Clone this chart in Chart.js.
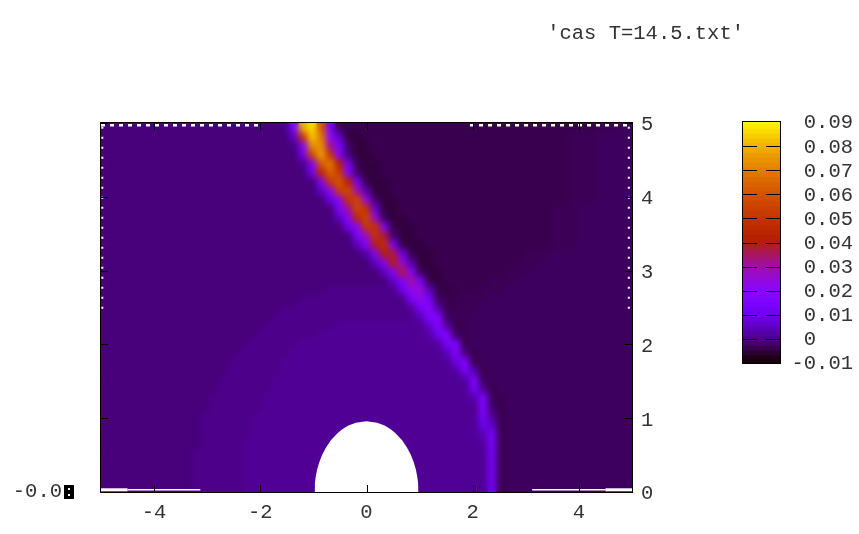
<!DOCTYPE html>
<html><head><meta charset="utf-8">
<style>html,body{margin:0;padding:0;background:#fff;width:859px;height:534px;overflow:hidden}
canvas{position:absolute;top:0}</style>
<script src="https://cdn.jsdelivr.net/npm/chart.js@4"></script></head><body>
<canvas id="main" width="744" height="534" style="left:0"></canvas>
<canvas id="bar" width="159" height="534" style="left:700px"></canvas>
<script>
const titleText="'cas T=14.5.txt'";
const xTickValues=[-4,-2,0,2,4];
const yTickValues=[0,1,2,3,4,5];
const cbTickValues=[-10,0,10,20,30,40,50,60,70,80,90];
const cbTickLabels=['-0.01','0   ','0.01','0.02','0.03','0.04','0.05','0.06','0.07','0.08','0.09'];
const cbLevels=[-10,-8,-6,-4,-2,0,2,4,6,8,10,12,14,16,18,20,22,24,26,28,30,32,34,36,38,40,42,44,46,48,50,52,54,56,58,60,62,64,66,68,70,72,74,76,78,80,82,84,86,88];
// heat values in thousandths, top row first, 59 columns each
const row00=[-2,-2,-2,-2,-2,-2,-2,-2,-2,-2, -2,-2,-2,-2,-2,-2,-2,-2,-2,-2, -1,15,78,85,60,14,-4,-5,-5,-5, -5,-5,-5,-5,-5,-5,-5,-5,-5,-5, -5,-5,-5,-5,-5,-5,-5,-5,-5,-5, -5,-5,-5,-5,-5,-4.5,-4.5,-4.5,-4];
const row01=[-2,-2,-2,-2,-2,-2,-2,-2,-2,-2, -2,-2,-2,-2,-2,-2,-2,-2,-2,-2, -2,5,50,82,68,20,5,-6,-6,-5, -5,-5,-5,-5,-5,-5,-5,-5,-5,-5, -5,-5,-5,-5,-5,-5,-5,-5,-5,-5, -5,-5,-4.5,-4.5,-4.5,-4,-4,-4,-4];
const row02=[-2,-2,-2,-2,-2,-2,-2,-2,-2,-2, -2,-2,-2,-2,-2,-2,-2,-2,-2,-2, -2,-1,18,72,72,30,14,-3,-6,-6, -5,-5,-5,-5,-5,-5,-5,-5,-5,-5, -5,-5,-5,-5,-5,-5,-5,-5,-5,-5, -5,-5,-4.5,-4.5,-4.5,-4,-4,-4,-4];
const row03=[-2,-2,-2,-2,-2,-2,-2,-2,-2,-2, -2,-2,-2,-2,-2,-2,-2,-2,-2,-2, -2,-2,10,55,75,50,16,-2,-6,-6, -5,-5,-5,-5,-5,-5,-5,-5,-5,-5, -5,-5,-5,-5,-5,-5,-5,-5,-5,-5, -5,-5,-4.5,-4.5,-4.5,-4,-4,-4,-4];
const row04=[-2,-2,-2,-2,-2,-2,-2,-2,-2,-2, -2,-2,-2,-2,-2,-2,-2,-2,-2,-2, -2,-2,-1,16,60,68,40,12,-5,-6, -6,-5,-5,-5,-5,-5,-5,-5,-5,-5, -5,-5,-5,-5,-5,-5,-5,-5,-5,-5, -5,-5,-4.5,-4.5,-4.5,-4,-4,-4,-4];
const row05=[-2,-2,-2,-2,-2,-2,-2,-2,-2,-2, -2,-2,-2,-2,-2,-2,-2,-2,-2,-2, -2,-2,-2,10,44,62,52,15,-3,-6, -6,-5,-5,-5,-5,-5,-5,-5,-5,-5, -5,-5,-5,-5,-5,-5,-5,-5,-5,-5, -5,-5,-4.5,-4.5,-4.5,-4,-4,-4,-4];
const row06=[-2,-2,-2,-2,-2,-2,-2,-2,-2,-2, -2,-2,-2,-2,-2,-2,-2,-2,-2,-2, -2,-2,-2,-2,15,50,60,40,13,-5, -6,-6,-5,-5,-5,-5,-5,-5,-5,-5, -5,-5,-5,-5,-5,-5,-5,-5,-5,-5, -5,-5,-4.5,-4.5,-4.5,-4,-4,-4,-4];
const row07=[-2,-2,-2,-2,-2,-2,-2,-2,-2,-2, -2,-2,-2,-2,-2,-2,-2,-2,-2,-2, -2,-2,-2,-2,4,18,52,56,28,2, -6,-6,-5,-5,-5,-5,-5,-5,-5,-5, -5,-5,-5,-5,-5,-5,-5,-5,-5,-5, -5,-5,-4.5,-4.5,-4.5,-4,-4,-4,-4];
const row08=[-2,-2,-2,-2,-2,-2,-2,-2,-2,-2, -2,-2,-2,-2,-2,-2,-2,-2,-2,-2, -2,-2,-2,-2,-2,7,18,48,55,22, -3,-6,-6,-5,-5,-5,-5,-5,-5,-5, -5,-5,-5,-5,-5,-5,-5,-5,-5,-5, -5,-5,-4.5,-4.5,-4.5,-4,-4,-4,-4];
const row09=[-2,-2,-2,-2,-2,-2,-2,-2,-2,-2, -2,-2,-2,-2,-2,-2,-2,-2,-2,-2, -2,-2,-2,-2,-2,-2,14,30,55,48, 7,-6,-6,-5,-5,-5,-5,-5,-5,-5, -5,-5,-5,-5,-5,-5,-5,-5,-5,-5, -4.5,-4.5,-4.5,-4,-4,-4,-4,-4,-4];
const row10=[-2,-2,-2,-2,-2,-2,-2,-2,-2,-2, -2,-2,-2,-2,-2,-2,-2,-2,-2,-2, -2,-2,-2,-2,-2,-2,4,17,44,54, 24,-4,-6,-6,-5,-5,-5,-5,-5,-5, -5,-5,-5,-5,-5,-5,-5,-5,-5,-5, -4.5,-4.5,-4.5,-4,-4,-4,-4,-4,-4];
const row11=[-2,-2,-2,-2,-2,-2,-2,-2,-2,-2, -2,-2,-2,-2,-2,-2,-2,-2,-2,-2, -2,-2,-2,-2,-2,-2,-2,9,18,50, 48,15,-5,-6,-6,-5,-5,-5,-5,-5, -5,-5,-5,-5,-5,-5,-5,-5,-5,-5, -4.5,-4.5,-4.5,-4,-4,-4,-4,-4,-4];
const row12=[-2,-2,-2,-2,-2,-2,-2,-2,-2,-2, -2,-2,-2,-2,-2,-2,-2,-2,-2,-2, -2,-2,-2,-2,-2,-2,-2,-2,14,26, 48,36,-2,-6,-6,-5,-5,-5,-5,-5, -5,-5,-5,-5,-5,-5,-5,-5,-5,-5, -4.5,-4.5,-4.5,-4,-4,-4,-4,-4,-4];
const row13=[-2,-2,-2,-2,-2,-2,-2,-2,-2,-2, -2,-2,-2,-2,-2,-2,-2,-2,-2,-2, -2,-2,-2,-2,-2,-2,-2,-2,3,15, 38,46,14,-5,-6,-6,-5,-5,-5,-5, -5,-5,-5,-5,-5,-5,-5,-5,-5,-5, -4.5,-4.5,-4.5,-4,-4,-4,-4,-4,-4];
const row14=[-2,-2,-2,-2,-2,-2,-2,-2,-2,-2, -2,-2,-2,-2,-2,-2,-2,-2,-2,-2, -2,-2,-2,-2,-2,-2,-2,-2,-2,1, 15,40,36,10,-5,-6,-6,-5,-5,-5, -5,-5,-5,-5,-5,-5,-5,-4.5,-4.5,-4.5, -4,-4,-4,-4,-4,-4,-4,-4,-4];
const row15=[-2,-2,-2,-2,-2,-2,-2,-2,-2,-2, -2,-2,-2,-2,-2,-2,-2,-2,-2,-2, -2,-2,-2,-2,-2,-2,-2,-2,-2,-2, 4,16,40,24,2,-6,-6,-5,-5,-5, -5,-5,-5,-5,-5,-5,-4.5,-4.5,-4.5,-4, -4,-4,-4,-4,-4,-4,-4,-4,-4];
const row16=[-2,-2,-2,-2,-2,-2,-2,-2,-2,-2, -2,-2,-2,-2,-2,-2,-2,-2,-2,-2, -2,-2,-2,-2,-2,-2,-2,-2,-2,-2, -2,4,15,37,18,-4,-6,-6,-5,-5, -5,-5,-5,-5,-5,-4.5,-4.5,-4.5,-4,-4, -4,-4,-4,-4,-4,-4,-4,-4,-4];
const row17=[-2,-2,-2,-2,-2,-2,-2,-2,-2,-2, -2,-2,-2,-2,-2,-2,-2,-2,-2,-2, -2,-2,-2,-2,-2,-2,-2,-2,-2,-2, -2,-2,5,16,30,14,-5,-6,-5,-5, -5,-5,-5,-4.5,-4.5,-4.5,-4,-4,-4,-4, -4,-4,-4,-4,-4,-4,-4,-4,-4];
const row18=[-2,-2,-2,-2,-2,-2,-2,-2,-2,-2, -2,-2,-2,-2,-2,-2,-2,-2,-2,-2, -2,-2,-2,-2,-2,-1,-1,-1,-1,-1, -1,-1,-1,10,20,25,4,-5,-6,-5, -5,-5,-4.5,-4.5,-4.5,-4,-4,-4,-4,-4, -4,-4,-4,-4,-4,-4,-4,-4,-4];
const row19=[-2,-2,-2,-2,-2,-2,-2,-2,-2,-2, -2,-2,-2,-2,-2,-2,-2,-2,-2,-2, -2,-2,-1,-1,-1,-1,-1,-1,-1,-1, -1,-1,-1,-1,13,22,12,-4,-5,-5, -4.5,-4.5,-4.5,-4,-4,-4,-4,-4,-4,-4, -4,-4,-4,-4,-4,-4,-4,-4,-4];
const row20=[-2,-2,-2,-2,-2,-2,-2,-2,-2,-2, -2,-2,-2,-2,-2,-2,-2,-2,-2,-2, -1,-1,-1,-1,-1,-1,-1,-1,-1,-1, -1,-1,-1,-1,1,13,19,2,-5,-4.5, -4.5,-4.5,-4,-4,-4,-4,-4,-4,-4,-4, -4,-4,-4,-4,-4,-4,-4,-4,-4];
const row21=[-2,-2,-2,-2,-2,-2,-2,-2,-2,-2, -2,-2,-2,-2,-2,-2,-2,-2,-2,-1, -1,-1,-1,-1,-1,-1,-1,-1,-1,-1, -1,-1,-1,-1,-1,3,15,16,-4,-4.5, -4.5,-4,-4,-4,-4,-4,-4,-4,-4,-4, -4,-4,-4,-4,-4,-4,-4,-4,-4];
const row22=[-2,-2,-2,-2,-2,-2,-2,-2,-2,-2, -2,-2,-2,-2,-2,-2,-2,-2,-1,-1, -1,-1,-1,-1,-1,-1,0,0,0,0, 0,0,0,0,0,0,5,16,1,-5, -4.5,-4,-4,-4,-4,-4,-4,-4,-4,-4, -4,-4,-4,-4,-4,-4,-4,-4,-4];
const row23=[-2,-2,-2,-2,-2,-2,-2,-2,-2,-2, -2,-2,-2,-2,-2,-2,-2,-1,-1,-1, -1,-1,-1,-1,0,0,0,0,0,0, 0,0,0,0,0,0,1,10,16,-4, -4.5,-4,-4,-4,-4,-4,-4,-4,-4,-4, -4,-4,-4,-4,-4,-4,-4,-4,-4];
const row24=[-2,-2,-2,-2,-2,-2,-2,-2,-2,-2, -2,-2,-2,-2,-2,-2,-1,-1,-1,-1, -1,-1,0,0,0,0,0,0,0,0, 0,0,0,0,0,0,0,1,12,14, -5,-4,-4,-4,-4,-4,-4,-4,-4,-4, -4,-4,-4,-4,-4,-4,-4,-4,-4];
const row25=[-2,-2,-2,-2,-2,-2,-2,-2,-2,-2, -2,-2,-2,-2,-2,-1,-1,-1,-1,-1, -1,0,0,0,0,0,0,0,0,0, 0,0,0,0,0,0,0,0,3,16, -2,-5,-4,-4,-4,-4,-4,-4,-4,-4, -4,-4,-4,-4,-4,-4,-4,-4,-4];
const row26=[-2,-2,-2,-2,-2,-2,-2,-2,-2,-2, -2,-2,-2,-2,-1,-1,-1,-1,-1,-1, 0,0,0,0,0,0,0,0,0,0, 0,0,0,0,0,0,0,0,0,8, 15,-5,-4,-4,-4,-4,-4,-4,-4,-4, -4,-4,-4,-4,-4,-4,-4,-4,-4];
const row27=[-2,-2,-2,-2,-2,-2,-2,-2,-2,-2, -2,-2,-2,-2,-1,-1,-1,-1,-1,-1, 0,0,0,0,0,0,0,0,0,0, 0,0,0,0,0,0,0,0,0,1, 13,2,-5,-4,-4,-4,-4,-4,-4,-4, -4,-4,-4,-4,-4,-4,-4,-4,-4];
const row28=[-2,-2,-2,-2,-2,-2,-2,-2,-2,-2, -2,-2,-2,-1,-1,-1,-1,-1,-1,0, 0,0,0,0,0,0,0,0,0,0, 0,0,0,0,0,0,0,0,0,0, 1,15,-4,-4,-4,-4,-4,-4,-4,-4, -4,-4,-4,-4,-4,-4,-4,-4,-4];
const row29=[-2,-2,-2,-2,-2,-2,-2,-2,-2,-2, -2,-2,-2,-1,-1,-1,-1,-1,-1,0, 0,0,0,0,0,0,0,0,0,0, 0,0,0,0,0,0,0,0,0,0, 0,12,0,-5,-4,-4,-4,-4,-4,-4, -4,-4,-4,-4,-4,-4,-4,-4,-4];
const row30=[-2,-2,-2,-2,-2,-2,-2,-2,-2,-2, -2,-2,-1,-1,-1,-1,-1,-1,0,0, 0,0,0,0,0,0,0,0,0,0, 0,0,0,0,0,0,0,0,0,0, 0,2,14,-4,-5,-4,-4,-4,-4,-4, -4,-4,-4,-4,-4,-4,-4,-4,-4];
const row31=[-2,-2,-2,-2,-2,-2,-2,-2,-2,-2, -2,-2,-1,-1,-1,-1,-1,-1,0,0, 0,0,0,0,0,0,0,0,0,0, 0,0,0,0,0,0,0,0,0,0, 0,0,15,-3,-5,-4,-4,-4,-4,-4, -4,-4,-4,-4,-4,-4,-4,-4,-4];
const row32=[-2,-2,-2,-2,-2,-2,-2,-2,-2,-2, -2,-1,-1,-1,-1,-1,-1,0,0,0, 0,0,0,0,0,0,0,0,0,0, 0,0,0,0,0,0,0,0,0,0, 0,0,12,0,-5,-4,-4,-4,-4,-4, -4,-4,-4,-4,-4,-4,-4,-4,-4];
const row33=[-2,-2,-2,-2,-2,-2,-2,-2,-2,-2, -2,-1,-1,-1,-1,-1,-1,0,0,0, 0,0,0,0,0,0,0,0,0,0, 0,0,0,0,0,0,0,0,0,0, 0,0,9,4,-5,-4,-4,-4,-4,-4, -4,-4,-4,-4,-4,-4,-4,-4,-4];
const row34=[-2,-2,-2,-2,-2,-2,-2,-2,-2,-2, -2,-1,-1,-1,-1,-1,-1,0,0,0, 0,0,0,0,0,0,0,null,null,null, null,null,0,0,0,0,0,0,0,0, 0,0,3,12,-5,-4,-4,-4,-4,-4, -4,-4,-4,-4,-4,-4,-4,-4,-4];
const row35=[-2,-2,-2,-2,-2,-2,-2,-2,-2,-2, -2,-1,-1,-1,-1,-1,0,0,0,0, 0,0,0,0,0,0,null,null,null,null, null,null,null,0,0,0,0,0,0,0, 0,0,1,13,-5,-4,-4,-4,-4,-4, -4,-4,-4,-4,-4,-4,-4,-4,-4];
const row36=[-2,-2,-2,-2,-2,-2,-2,-2,-2,-2, -1,-1,-1,-1,-1,-1,0,0,0,0, 0,0,0,0,0,null,null,null,null,null, null,null,null,0,0,0,0,0,0,0, 0,0,0,12,-5,-4,-4,-4,-4,-4, -4,-4,-4,-4,-4,-4,-4,-4,-4];
const row37=[-2,-2,-2,-2,-2,-2,-2,-2,-2,-2, -1,-1,-1,-1,-1,-1,0,0,0,0, 0,0,0,0,0,null,null,null,null,null, null,null,null,null,0,0,0,0,0,0, 0,0,0,11,-5,-4,-4,-4,-4,-4, -4,-4,-4,-4,-4,-4,-4,-4,-4];
const row38=[-2,-2,-2,-2,-2,-2,-2,-2,-2,-2, -1,-1,-1,-1,-1,-1,0,0,0,0, 0,0,0,0,0,null,null,null,null,null, null,null,null,null,0,0,0,0,0,0, 0,0,0,11,-5,-4,-4,-4,-4,-4, -4,-4,-4,-4,-4,-4,-4,-4,-4];
const row39=[-2,-2,-2,-2,-2,-2,-2,-2,-2,-2, -1,-1,-1,-1,-1,-1,0,0,0,0, 0,0,0,0,null,null,null,null,null,null, null,null,null,null,null,0,0,0,0,0, 0,0,0,10,-5,-4,-4,-4,-4,-4, -4,-4,-4,-4,-4,-4,-4,-4,-4];
const row40=[-2,-2,-2,-2,-2,-2,-2,-2,-2,-2, -1,-1,-1,-1,-1,-1,0,0,0,0, 0,0,0,0,null,null,null,null,null,null, null,null,null,null,null,0,0,0,0,0, 0,0,0,10,-5,-4,-4,-4,-4,-4, -4,-4,-4,-4,-4,-4,-4,-4,-4];
const heatRows=[row00,row01,row02,row03,row04,row05,row06,row07,row08,row09,row10,row11,row12,row13,row14,row15,row16,row17,row18,row19,row20,row21,row22,row23,row24,row25,row26,row27,row28,row29,row30,row31,row32,row33,row34,row35,row36,row37,row38,row39,row40];
// edge of the empty region round the origin
const holeEdge=[[-0.98,0],[-0.975,0.1],[-0.958,0.2],[-0.931,0.3],[-0.891,0.4],[-0.837,0.5],[-0.765,0.6],[-0.671,0.7],[-0.542,0.8],[-0.456,0.85],[-0.341,0.9],[-0.2,0.94],[0,0.96],[0.2,0.94],[0.341,0.9],[0.456,0.85],[0.542,0.8],[0.671,0.7],[0.765,0.6],[0.837,0.5],[0.891,0.4],[0.931,0.3],[0.958,0.2],[0.975,0.1],[0.98,0]];
// unfilled slivers along the frame
const gapBottomL=[[-5,0.03],[-4.5,0.03]], gapBottomL2=[[-4.5,0.03],[-3.13,0.03]];
const gapBottomR=[[4.5,0.03],[5,0.03]], gapBottomR2=[[3.12,0.03],[4.5,0.03]];
const gapTopL=[[-5,4.97],[-2,4.97]], gapTopR=[[1.95,4.97],[5,4.97]];
const gapLeft=[[-4.975,4.95],[-4.975,2.4]], gapRight=[[4.94,4.95],[4.94,2.4]];

const XMIN=-5,XMAX=5,YMIN=0,YMAX=5,VMIN=-10,VMAX=90;
function pal(v){
  const t=Math.max(0,Math.min(1,(v-VMIN)/(VMAX-VMIN)));
  const r=Math.sqrt(t),g=t*t*t,b=Math.max(0,Math.sin(2*Math.PI*t));
  return `rgb(${Math.round(r*255)},${Math.round(g*255)},${Math.round(b*255)})`;
}
const FONT={family:"'Liberation Mono','DejaVu Sans Mono',monospace",size:20.5};
const TXT='#333';
const nCols=row00.length,nRows=heatRows.length;
const dx=(XMAX-XMIN)/nCols,dy=(YMAX-YMIN)/nRows;
const cellSets=heatRows.map((row,r)=>{
  const data=[],colors=[];
  row.forEach((v,c)=>{
    if(v===null)return;
    data.push({x:XMIN+(c+.5)*dx,y:[YMAX-(r+1)*dy,YMAX-r*dy]});
    colors.push(pal(v));
  });
  return {type:'bar',data,backgroundColor:colors,borderWidth:0,barPercentage:1,categoryPercentage:1,grouped:false,order:5};
});
const pts=a=>a.map(p=>({x:p[0],y:p[1]}));
const sliver=(a,w,dash)=>({type:'line',data:pts(a),borderColor:'#fff',borderWidth:w,borderDash:dash||[],pointRadius:0,fill:false,order:1});
const noPad=(s,w)=>{s.width=w;s.paddingTop=0;s.paddingBottom=0};
const frame=(ticksX,ticksY,len)=>({id:'frame',afterDatasetsDraw(ch){
  const {ctx,chartArea:a,scales}=ch;
  ctx.save();ctx.strokeStyle='#000';ctx.lineWidth=1;
  ctx.strokeRect(a.left-.5,a.top-.5,a.right-a.left+1,a.bottom-a.top+1);
  ctx.beginPath();
  ticksX.forEach(v=>{const p=Math.round(scales.x.getPixelForValue(v))+.5;ctx.moveTo(p,a.bottom);ctx.lineTo(p,a.bottom-len);ctx.moveTo(p,a.top);ctx.lineTo(p,a.top+len);});
  ticksY.forEach(v=>{const p=Math.round(scales.y.getPixelForValue(v))+.5;ctx.moveTo(a.left,p);ctx.lineTo(a.left+len,p);ctx.moveTo(a.right,p);ctx.lineTo(a.right-len,p);});
  ctx.stroke();ctx.restore();
}});
// soften the cell edges once the last row of cells is down, before the overlays
const soften={id:'soften',afterDatasetDraw(ch,args){
  if(args.index!==0)return;
  const {ctx,chartArea:a,canvas}=ch;
  const w=a.right-a.left,h=a.bottom-a.top;
  ctx.save();ctx.beginPath();ctx.rect(a.left,a.top,w,h);ctx.clip();
  ctx.filter='blur(3px)';
  ctx.drawImage(canvas,a.left,a.top,w,h,a.left,a.top,w,h);
  ctx.restore();
}};
const blot={id:'blot',afterDraw(ch){
  const c=ch.ctx;c.save();c.fillStyle='#000';c.fillRect(64,485,10,14);
  c.fillStyle='#fff';c.fillRect(68,488,2,2);c.fillRect(68,494,2,2);c.restore();
}};
new Chart(document.getElementById('main'),{
  type:'bar',
  data:{datasets:[
    ...cellSets,
    {type:'line',data:pts(holeEdge),borderWidth:0,borderColor:'#fff',backgroundColor:'#fff',pointRadius:0,fill:'origin',tension:0,order:0},
    sliver(gapBottomL,3),sliver(gapBottomL2,1.5),sliver(gapBottomR,3),sliver(gapBottomR2,1.5),
    sliver(gapTopL,2.5,[4,5]),sliver(gapTopR,2.5,[4,5]),sliver(gapLeft,2,[2,8]),sliver(gapRight,2,[2,8])
  ]},
  options:{responsive:false,maintainAspectRatio:false,animation:false,devicePixelRatio:1,
    layout:{padding:0},
    plugins:{legend:{display:false},tooltip:{enabled:false},
      title:{display:true,text:titleText,align:'end',color:TXT,font:{...FONT,weight:'normal',lineHeight:1.2},padding:{top:21,bottom:77.4}}},
    scales:{
      x:{type:'linear',min:XMIN,max:XMAX,offset:false,grid:{display:false,drawTicks:false},border:{display:false},
        afterBuildTicks:s=>{s.ticks=xTickValues.map(v=>({value:v}))},
        afterFit:s=>{s.height=42},
        ticks:{font:FONT,color:TXT,padding:8,maxRotation:0,autoSkip:false,callback:v=>String(v)}},
      y:{type:'linear',position:'right',min:YMIN,max:YMAX,grid:{display:false,drawTicks:false},border:{display:false},
        afterBuildTicks:s=>{s.ticks=yTickValues.map(v=>({value:v}))},
        afterFit:s=>noPad(s,112),
        ticks:{font:FONT,color:TXT,padding:9,labelOffset:2,autoSkip:false,callback:v=>String(v)}},
      yLeft:{type:'linear',position:'left',min:YMIN,max:YMAX,grid:{display:false,drawTicks:false},border:{display:false},
        afterBuildTicks:s=>{s.ticks=[{value:0}]},
        afterFit:s=>noPad(s,101),
        ticks:{font:FONT,color:TXT,padding:39,autoSkip:false,callback:()=>'-0.0'}}
    }},
  plugins:[soften,frame(xTickValues,yTickValues,7),blot]
});
new Chart(document.getElementById('bar'),{
  type:'bar',
  data:{labels:['cb'],datasets:cbLevels.map(v=>({data:[[v,Math.min(VMAX,v+3)]],backgroundColor:pal(v+1),borderWidth:0,barPercentage:1,categoryPercentage:1,grouped:false}))},
  options:{responsive:false,maintainAspectRatio:false,animation:false,devicePixelRatio:1,
    layout:{padding:{left:43,top:122,bottom:171,right:6}},
    plugins:{legend:{display:false},tooltip:{enabled:false}},
    scales:{
      x:{display:false,offset:true,grid:{display:false}},
      y:{type:'linear',position:'right',min:VMIN,max:VMAX,grid:{display:false,drawTicks:false},border:{display:false},
        afterBuildTicks:s=>{s.ticks=cbTickValues.map(v=>({value:v}))},
        afterFit:s=>noPad(s,73),
        ticks:{font:FONT,color:TXT,padding:6,labelOffset:1,crossAlign:'far',autoSkip:false,callback:(v,i)=>cbTickLabels[i]}}
    }},
  plugins:[{id:'cbframe',afterDatasetsDraw(ch){
    const {ctx,chartArea:a,scales}=ch;
    ctx.save();ctx.strokeStyle='#000';ctx.lineWidth=1;
    ctx.strokeRect(a.left-.5,a.top-.5,a.right-a.left+1,a.bottom-a.top+1);
    ctx.beginPath();
    cbTickValues.slice(1,-1).forEach(v=>{const p=Math.round(scales.y.getPixelForValue(v))+.5;ctx.moveTo(a.left,p);ctx.lineTo(a.left+14,p);ctx.moveTo(a.right,p);ctx.lineTo(a.right-14,p);});
    ctx.stroke();ctx.restore();
  }}]
});
</script></body></html>
